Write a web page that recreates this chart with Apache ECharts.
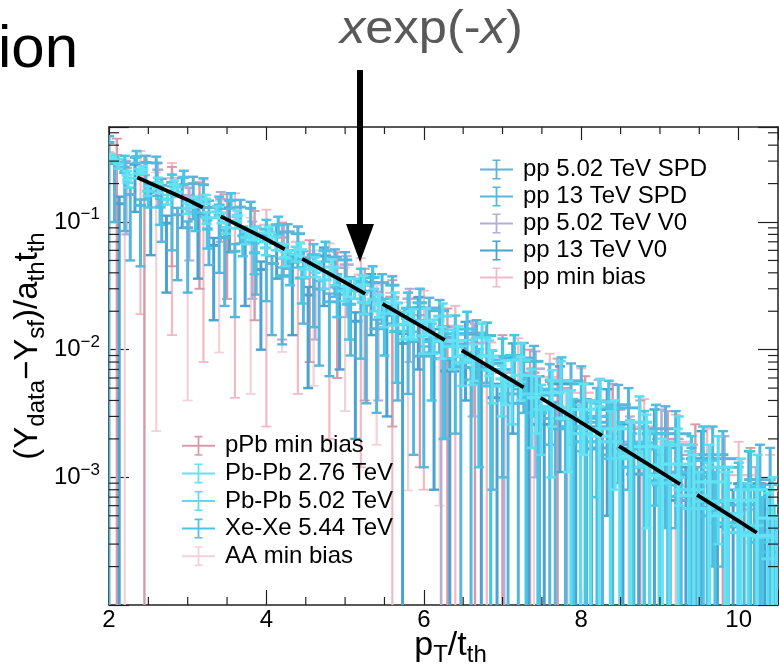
<!DOCTYPE html>
<html>
<head>
<meta charset="utf-8">
<script src="https://cdn.jsdelivr.net/npm/echarts@6/dist/echarts.min.js"></script>
<style>
html, body { margin: 0; padding: 0; background: #fff; }
#chart { width: 779px; height: 671px; }
</style>
</head>
<body>
<div id="chart"></div>
<script>
// points are [x, y, lower end, upper end]; a lower end of 0 means the bar runs off the bottom
const aaMinBias = [
  [2.20, 0.256, 0, 0.31], [2.60, 0.203, 0.0023, 0.245], [3.00, 0.157, 0.004, 0.19],
  [3.40, 0.119, 0.0095, 0.145], [3.80, 0.089, 0.0045, 0.108], [4.20, 0.066, 0.0096, 0.081],
  [4.60, 0.0485, 0.0052, 0.060], [5.00, 0.0354, 0.0033, 0.044], [5.40, 0.0256, 0.0018, 0.032],
  [5.80, 0.0185, 0.00079, 0.0235], [6.20, 0.0133, 0.0006, 0.0172], [6.60, 0.0094, 0, 0.0124],
  [7.00, 0.0067, 0, 0.0090], [7.40, 0.0048, 0, 0.0066], [7.80, 0.0034, 0, 0.0048],
  [8.20, 0.0024, 0, 0.0035], [8.60, 0.0017, 0, 0.0026], [9.00, 0.0012, 0, 0.0019],
  [9.40, 0.00085, 0, 0.0014], [9.80, 0.0006, 0, 0.0011], [10.20, 0.00043, 0, 0.0008]
];
const ppMinBias = [
  [2.00, 0.352, 0, 0.47], [2.40, 0.272, 0.019, 0.36], [2.80, 0.221, 0.013, 0.29],
  [3.20, 0.163, 0.008, 0.215], [3.60, 0.128, 0.0042, 0.168], [4.00, 0.095, 0.0025, 0.125],
  [4.40, 0.070, 0.0045, 0.093], [4.80, 0.0514, 0.0020, 0.068], [5.20, 0.0387, 0.0012, 0.052],
  [5.60, 0.0279, 0, 0.038], [6.00, 0.0209, 0.0008, 0.029], [6.40, 0.0154, 0, 0.022],
  [6.80, 0.0114, 0, 0.0165], [7.20, 0.0083, 0, 0.0123], [7.60, 0.0061, 0, 0.0093],
  [8.00, 0.0046, 0, 0.0071], [8.40, 0.0034, 0, 0.0054], [8.80, 0.0025, 0, 0.0041],
  [9.20, 0.0019, 0, 0.0031], [9.60, 0.0014, 0, 0.0024], [10.00, 0.00104, 0, 0.0019],
  [10.40, 0.00079, 0, 0.0015]
];
const pPbMinBias = [
  [2.10, 0.334, 0, 0.45], [2.45, 0.233, 0, 0.33], [2.80, 0.204, 0.045, 0.27],
  [3.15, 0.149, 0.03, 0.205], [3.50, 0.127, 0.025, 0.165], [3.85, 0.090, 0.017, 0.122],
  [4.20, 0.0757, 0.012, 0.099], [4.55, 0.053, 0.008, 0.072], [4.90, 0.0438, 0.006, 0.058],
  [5.25, 0.0317, 0.004, 0.043], [5.60, 0.0259, 0.0025, 0.035], [5.95, 0.0186, 0.0012, 0.026],
  [6.30, 0.0150, 0, 0.021], [6.65, 0.0112, 0, 0.0160], [7.00, 0.0089, 0, 0.0130],
  [7.35, 0.0066, 0, 0.0100], [7.70, 0.0056, 0, 0.0085], [8.05, 0.0039, 0, 0.0062],
  [8.40, 0.0034, 0, 0.0054], [8.75, 0.0024, 0, 0.0040], [9.10, 0.0020, 0, 0.0033],
  [9.45, 0.0015, 0, 0.0026], [9.80, 0.0012, 0, 0.0021], [10.15, 0.0009, 0, 0.0017]
];
const pp502V0 = [
  [2.22, 0.265, 0.08, 0.30], [2.62, 0.257, 0.13, 0.29], [3.02, 0.162, 0.05, 0.185],
  [3.42, 0.151, 0.07, 0.172], [3.82, 0.088, 0.025, 0.101], [4.22, 0.0837, 0.037, 0.096],
  [4.62, 0.0478, 0.012, 0.055], [5.02, 0.0464, 0.018, 0.054], [5.42, 0.0240, 0.004, 0.0285],
  [5.82, 0.0251, 0.008, 0.030], [6.22, 0.0124, 0, 0.0152], [6.62, 0.0132, 0.003, 0.0168],
  [7.02, 0.0066, 0, 0.0085], [7.42, 0.0071, 0.001, 0.0097], [7.82, 0.0035, 0, 0.0050],
  [8.22, 0.0040, 0, 0.0058], [8.62, 0.0019, 0, 0.0030], [9.02, 0.0022, 0, 0.0034],
  [9.42, 0.0010, 0, 0.0018], [9.82, 0.0012, 0, 0.0021], [10.22, 0.00056, 0, 0.0012]
];
const pp13V0 = [
  [2.13, 0.139, 0, 0.158], [2.33, 0.283, 0.12, 0.32], [2.53, 0.171, 0.055, 0.193],
  [2.73, 0.098, 0.028, 0.112], [2.93, 0.196, 0.09, 0.222], [3.13, 0.116, 0.036, 0.132],
  [3.33, 0.0656, 0.017, 0.075], [3.53, 0.129, 0.058, 0.147], [3.73, 0.0761, 0.022, 0.087],
  [3.93, 0.0425, 0.010, 0.049], [4.13, 0.0831, 0.036, 0.095], [4.33, 0.0485, 0.013, 0.056],
  [4.53, 0.0268, 0.005, 0.031], [4.73, 0.0542, 0.022, 0.063], [4.93, 0.0303, 0.007, 0.035],
  [5.13, 0.0167, 0.002, 0.0196], [5.33, 0.0335, 0.013, 0.039], [5.53, 0.0186, 0.003, 0.022],
  [5.73, 0.0112, 0, 0.0133], [5.93, 0.0213, 0.007, 0.0257], [6.13, 0.0120, 0.0008, 0.0145],
  [6.33, 0.0068, 0, 0.0083], [6.53, 0.0133, 0.004, 0.0165], [6.73, 0.0072, 0, 0.0090],
  [6.93, 0.0042, 0, 0.0054], [7.13, 0.0086, 0.0022, 0.0112], [7.33, 0.0046, 0, 0.0060],
  [7.53, 0.0026, 0, 0.0036], [7.73, 0.0054, 0.0011, 0.0074], [7.93, 0.00285, 0, 0.0040],
  [8.13, 0.00167, 0, 0.0025], [8.33, 0.0034, 0.0005, 0.0049], [8.53, 0.00168, 0, 0.0026],
  [8.73, 0.00106, 0, 0.0017], [8.93, 0.0022, 0, 0.0034], [9.13, 0.00104, 0, 0.0017],
  [9.33, 0.00066, 0, 0.0012], [9.53, 0.0014, 0, 0.0023], [9.73, 0.00064, 0, 0.0012],
  [9.93, 0.00041, 0, 0.0008], [10.13, 0.00089, 0, 0.0016], [10.33, 0.00039, 0, 0.0008]
];
const pp502SPD = [
  [2.07, 0.287, 0.10, 0.32], [2.27, 0.164, 0.05, 0.185], [2.47, 0.293, 0.15, 0.33],
  [2.67, 0.194, 0.07, 0.218], [2.87, 0.114, 0.035, 0.129], [3.07, 0.200, 0.105, 0.226],
  [3.27, 0.130, 0.046, 0.147], [3.47, 0.0756, 0.022, 0.086], [3.67, 0.131, 0.068, 0.149],
  [3.87, 0.081, 0.027, 0.092], [4.07, 0.0473, 0.013, 0.054], [4.27, 0.0837, 0.043, 0.096],
  [4.47, 0.0512, 0.016, 0.059], [4.67, 0.0298, 0.0075, 0.0345], [4.87, 0.0531, 0.026, 0.061],
  [5.07, 0.0319, 0.009, 0.037], [5.27, 0.0190, 0.0038, 0.0222], [5.47, 0.0335, 0.016, 0.039],
  [5.67, 0.0196, 0.004, 0.0232], [5.87, 0.0116, 0.0015, 0.0138], [6.07, 0.0212, 0.0095, 0.0255],
  [6.27, 0.0125, 0.002, 0.0152], [6.47, 0.0073, 0, 0.0090], [6.67, 0.0135, 0.0055, 0.0170],
  [6.87, 0.0078, 0.0008, 0.0098], [7.07, 0.0045, 0, 0.0058], [7.27, 0.0086, 0.0032, 0.0113],
  [7.47, 0.0047, 0, 0.0062], [7.67, 0.0029, 0, 0.0039], [7.87, 0.0057, 0.0018, 0.0078],
  [8.07, 0.0029, 0, 0.0041], [8.27, 0.0017, 0, 0.0025], [8.47, 0.0037, 0.0009, 0.0053],
  [8.67, 0.0018, 0, 0.0027], [8.87, 0.00106, 0, 0.0017], [9.07, 0.0024, 0.0004, 0.0036],
  [9.27, 0.0011, 0, 0.0018], [9.47, 0.00066, 0, 0.0012], [9.67, 0.0015, 0.0002, 0.0025],
  [9.87, 0.00066, 0, 0.0012], [10.07, 0.00041, 0, 0.0009], [10.27, 0.00096, 0, 0.0018]
];
const pp13SPD = [
  [2.00, 0.42, 0, 0.47], [2.20, 0.244, 0.085, 0.27], [2.40, 0.135, 0.045, 0.15],
  [2.60, 0.29, 0.16, 0.325], [2.80, 0.170, 0.06, 0.19], [3.00, 0.090, 0.028, 0.101],
  [3.20, 0.196, 0.11, 0.22], [3.40, 0.113, 0.04, 0.127], [3.60, 0.059, 0.018, 0.067],
  [3.80, 0.128, 0.07, 0.144], [4.00, 0.070, 0.024, 0.079], [4.20, 0.038, 0.011, 0.044],
  [4.40, 0.081, 0.044, 0.092], [4.60, 0.046, 0.015, 0.053], [4.80, 0.0237, 0.0062, 0.0275],
  [5.00, 0.0505, 0.027, 0.058], [5.20, 0.0287, 0.0085, 0.033], [5.40, 0.0146, 0.0032, 0.0172],
  [5.60, 0.032, 0.016, 0.0375], [5.80, 0.0176, 0.0045, 0.0205], [6.00, 0.0089, 0.0012, 0.0106],
  [6.20, 0.0202, 0.0095, 0.0245], [6.40, 0.0111, 0.0022, 0.0134], [6.60, 0.0058, 0, 0.0072],
  [6.80, 0.0129, 0.0055, 0.0162], [7.00, 0.0070, 0.0010, 0.0088], [7.20, 0.0038, 0, 0.0049],
  [7.40, 0.0081, 0.0030, 0.0107], [7.60, 0.0044, 0, 0.0058], [7.80, 0.0024, 0, 0.0033],
  [8.00, 0.0054, 0.0016, 0.0074], [8.20, 0.0027, 0, 0.0038], [8.40, 0.0015, 0, 0.0022],
  [8.60, 0.0035, 0.0008, 0.0050], [8.80, 0.00166, 0, 0.0025], [9.00, 0.00094, 0, 0.0015],
  [9.20, 0.0022, 0.0004, 0.0033], [9.40, 0.00101, 0, 0.0017], [9.60, 0.00058, 0, 0.0011],
  [9.80, 0.0014, 0.0002, 0.0023], [10.00, 0.00061, 0, 0.0012], [10.20, 0.00036, 0, 0.0008],
  [10.40, 0.00088, 0, 0.0017]
];
const xeXe544 = [
  [2.20, 0.293, 0.25, 0.33], [2.50, 0.174, 0.13, 0.20], [2.80, 0.204, 0.17, 0.235],
  [3.10, 0.119, 0.085, 0.138], [3.40, 0.136, 0.112, 0.158], [3.70, 0.078, 0.054, 0.092],
  [4.00, 0.088, 0.071, 0.104], [4.30, 0.0496, 0.032, 0.060], [4.60, 0.0554, 0.043, 0.067],
  [4.90, 0.031, 0.018, 0.039], [5.20, 0.0344, 0.025, 0.043], [5.50, 0.0191, 0.009, 0.025],
  [5.80, 0.0211, 0.014, 0.028], [6.10, 0.0116, 0.004, 0.0160], [6.40, 0.0133, 0.0075, 0.0185],
  [6.70, 0.0070, 0.0012, 0.0101], [7.00, 0.0083, 0.0040, 0.0122], [7.30, 0.0042, 0, 0.0064],
  [7.60, 0.0049, 0.0018, 0.0077], [7.90, 0.0025, 0, 0.0041], [8.20, 0.0030, 0.0007, 0.0050],
  [8.50, 0.00147, 0, 0.0027], [8.80, 0.00186, 0, 0.0033], [9.10, 0.00087, 0, 0.0017],
  [9.40, 0.00109, 0, 0.0021], [9.70, 0.0005, 0, 0.0011], [10.00, 0.00066, 0, 0.0013],
  [10.30, 0.00031, 0, 0.0007],
  [2.35, 0.325, 0.29, 0.36], [2.65, 0.131, 0.095, 0.152], [2.95, 0.224, 0.195, 0.252],
  [3.25, 0.088, 0.062, 0.103], [3.55, 0.148, 0.127, 0.168], [3.85, 0.0574, 0.039, 0.068],
  [4.15, 0.095, 0.080, 0.110], [4.45, 0.0364, 0.023, 0.044], [4.75, 0.0596, 0.049, 0.070],
  [5.05, 0.0227, 0.012, 0.029], [5.35, 0.0368, 0.029, 0.045], [5.65, 0.0139, 0.0055, 0.0185],
  [5.95, 0.0233, 0.017, 0.030], [6.25, 0.0085, 0.002, 0.0118], [6.55, 0.0145, 0.0095, 0.0198],
  [6.85, 0.0052, 0, 0.0077], [7.15, 0.0090, 0.0052, 0.0130], [7.45, 0.0032, 0, 0.0050],
  [7.75, 0.0057, 0.0028, 0.0087], [8.05, 0.0019, 0, 0.0032], [8.35, 0.0035, 0.0014, 0.0057],
  [8.65, 0.0012, 0, 0.0022], [8.95, 0.0022, 0.0006, 0.0037], [9.25, 0.00071, 0, 0.0014],
  [9.55, 0.00136, 0, 0.0025], [9.85, 0.00044, 0, 0.0009], [10.15, 0.00084, 0, 0.0016],
  [10.45, 0.00026, 0, 0.0006]
];
const pbPb502 = [
  [2.12, 0.285, 0.262, 0.31], [2.37, 0.240, 0.22, 0.26], [2.62, 0.204, 0.187, 0.222],
  [2.87, 0.172, 0.157, 0.188], [3.12, 0.144, 0.131, 0.158], [3.37, 0.120, 0.108, 0.133],
  [3.62, 0.099, 0.089, 0.110], [3.87, 0.082, 0.073, 0.092], [4.12, 0.068, 0.060, 0.077],
  [4.37, 0.056, 0.049, 0.064], [4.62, 0.046, 0.040, 0.053], [4.87, 0.0375, 0.032, 0.044],
  [5.12, 0.0305, 0.025, 0.036], [5.37, 0.0248, 0.020, 0.030], [5.62, 0.0200, 0.0155, 0.0248],
  [5.87, 0.0163, 0.012, 0.0208], [6.12, 0.0131, 0.0093, 0.0172], [6.37, 0.0106, 0.0070, 0.0143],
  [6.62, 0.0086, 0.0053, 0.0119], [6.87, 0.0069, 0.0038, 0.0099], [7.12, 0.0056, 0.0026, 0.0083],
  [7.37, 0.0045, 0.0017, 0.0070], [7.62, 0.0036, 0.0010, 0.0058], [7.87, 0.0029, 0, 0.0048],
  [8.12, 0.0024, 0, 0.0040], [8.37, 0.0019, 0, 0.0033], [8.62, 0.00155, 0, 0.0028],
  [8.87, 0.00125, 0, 0.0023], [9.12, 0.0010, 0, 0.0019], [9.37, 0.0008, 0, 0.0016],
  [9.62, 0.00065, 0, 0.0013], [9.87, 0.00052, 0, 0.0011], [10.12, 0.00042, 0, 0.0009],
  [10.37, 0.00034, 0, 0.00075],
  [2.24, 0.203, 0.186, 0.22], [2.49, 0.175, 0.160, 0.190], [2.74, 0.150, 0.137, 0.163],
  [2.99, 0.128, 0.116, 0.140], [3.24, 0.108, 0.097, 0.119], [3.49, 0.0905, 0.081, 0.100],
  [3.74, 0.0756, 0.067, 0.084], [3.99, 0.0627, 0.055, 0.070], [4.24, 0.0519, 0.045, 0.058],
  [4.49, 0.0428, 0.037, 0.049], [4.74, 0.0352, 0.030, 0.041], [4.99, 0.0288, 0.024, 0.034],
  [5.24, 0.0235, 0.019, 0.028], [5.49, 0.0193, 0.015, 0.0235], [5.74, 0.0157, 0.012, 0.0195],
  [5.99, 0.0128, 0.0093, 0.0163], [6.24, 0.0183, 0.014, 0.023], [6.49, 0.0079, 0.0052, 0.0107],
  [6.74, 0.0124, 0.0090, 0.0160], [6.99, 0.0052, 0.0030, 0.0075], [7.24, 0.0083, 0.0056, 0.0112],
  [7.49, 0.0034, 0.0015, 0.0053], [7.74, 0.0057, 0.0035, 0.0081], [7.99, 0.0022, 0, 0.0037],
  [8.24, 0.0039, 0.0021, 0.0059], [8.49, 0.0014, 0, 0.0025], [8.74, 0.0027, 0.0012, 0.0043],
  [8.99, 0.0009, 0, 0.0017], [9.24, 0.0018, 0.0006, 0.0030], [9.49, 0.00057, 0, 0.0011],
  [9.74, 0.0012, 0.0003, 0.0021], [9.99, 0.00037, 0, 0.0008], [10.24, 0.0008, 0, 0.0015],
  [10.49, 0.00023, 0, 0.0005]
];
const pbPb276 = [
  [2.03, 0.320, 0.30, 0.34], [2.23, 0.233, 0.215, 0.25], [2.43, 0.257, 0.24, 0.275],
  [2.63, 0.184, 0.169, 0.199], [2.83, 0.197, 0.183, 0.212], [3.03, 0.142, 0.130, 0.154],
  [3.23, 0.151, 0.139, 0.163], [3.43, 0.108, 0.098, 0.118], [3.63, 0.113, 0.103, 0.123],
  [3.83, 0.0807, 0.072, 0.089], [4.03, 0.0823, 0.074, 0.091], [4.23, 0.0598, 0.053, 0.067],
  [4.43, 0.0607, 0.054, 0.068], [4.63, 0.0428, 0.037, 0.049], [4.83, 0.0444, 0.038, 0.051],
  [5.03, 0.0313, 0.026, 0.036], [5.23, 0.0322, 0.027, 0.038], [5.43, 0.0226, 0.018, 0.027],
  [5.63, 0.0232, 0.019, 0.028], [5.83, 0.0163, 0.0125, 0.020], [6.03, 0.0167, 0.013, 0.021],
  [6.23, 0.0117, 0.0085, 0.0150], [6.43, 0.0118, 0.0088, 0.0152], [6.63, 0.0083, 0.0057, 0.0110],
  [6.83, 0.0089, 0.0062, 0.0118], [7.03, 0.0059, 0.0037, 0.0082], [7.23, 0.0063, 0.0040, 0.0088],
  [7.43, 0.0042, 0.0022, 0.0062], [7.63, 0.0046, 0.0025, 0.0069], [7.83, 0.0029, 0.0011, 0.0048],
  [8.03, 0.0034, 0.0015, 0.0054], [8.23, 0.0021, 0, 0.0036], [8.43, 0.0024, 0.0008, 0.0040],
  [8.63, 0.00146, 0, 0.0027], [8.83, 0.00174, 0.0004, 0.0031], [9.03, 0.00103, 0, 0.0020],
  [9.23, 0.00127, 0, 0.0024], [9.43, 0.00072, 0, 0.0015], [9.63, 0.00092, 0, 0.0018],
  [9.83, 0.0005, 0, 0.0011], [10.03, 0.00066, 0, 0.0014], [10.23, 0.00035, 0, 0.0008],
  [10.43, 0.00048, 0, 0.0010]
];

// drawing order (back to front)
const seriesNames = ['AA min bias', 'pp min bias', 'pPb min bias', 'pp 5.02 TeV V0', 'pp 13 TeV V0',
  'pp 5.02 TeV SPD', 'pp 13 TeV SPD', 'Xe-Xe 5.44 TeV', 'Pb-Pb 5.02 TeV', 'Pb-Pb 2.76 TeV'];
const seriesPoints = [aaMinBias, ppMinBias, pPbMinBias, pp502V0, pp13V0, pp502SPD, pp13SPD, xeXe544, pbPb502, pbPb276];
const seriesColors = ['#f1d2d9', '#f3b9c5', '#d59bab', '#b6acd4', '#4aa2d0', '#5cb4da', '#54b8dc', '#49c6e6', '#5cdcf0', '#63e3f3'];
const seriesLineWidths = [2.2, 2.2, 2.4, 2.6, 3, 3, 3, 3.2, 3.2, 3.2];

// p_T bins get wider towards high p_T: [from x, half width of bin]
const binHalfWidths = [[2, 0.07], [4, 0.09], [6, 0.12], [7.5, 0.16], [9, 0.2]];

const legendUpper = ['pp 5.02 TeV SPD', 'pp 13 TeV SPD', 'pp 5.02 TeV V0', 'pp 13 TeV V0', 'pp min bias'];
const legendLower = ['pPb min bias', 'Pb-Pb 2.76 TeV', 'Pb-Pb 5.02 TeV', 'Xe-Xe 5.44 TeV', 'AA min bias'];

// the dashed x exp(-x) curve
const curvePoints = [[2.36, 0.223], [3, 0.149], [4, 0.0733], [5, 0.0337], [6, 0.0149], [7, 0.00638],
  [8, 0.00268], [9, 0.00111], [10, 0.000454], [10.23, 0.000368]];

const xLabelValues = [2, 4, 6, 8, 10];
const xMinorTicks = [2.5, 3, 3.5, 4.5, 5, 5.5, 6.5, 7, 7.5, 8.5, 9, 9.5];
const yLabelValues = [0.001, 0.01, 0.1];
const yLabelExponents = ['−3', '−2', '−1'];

const X_MIN = 2, X_MAX = 10.5, Y_MIN = 1e-4, Y_MAX = 0.555;
const FONT = "'Liberation Sans', Arial, Helvetica, sans-serif";

const yMinorTicks = [];
[1e-4, 1e-3, 1e-2, 1e-1].forEach(d => {
  [2, 3, 4, 5, 6, 7, 8, 9].forEach(m => { if (d * m < Y_MAX) yMinorTicks.push(d * m); });
});

function halfWidthAt(x) {
  let w = binHalfWidths[0][1];
  binHalfWidths.forEach(b => { if (x >= b[0]) w = b[1]; });
  return w;
}

const legendIcon = 'path://M0,9L33,9L33,11L0,11Z M15.6,0L17.4,0L17.4,20L15.6,20Z ' +
  'M12.5,0L20.5,0L20.5,1.6L12.5,1.6Z M12.5,18.4L20.5,18.4L20.5,20L12.5,20Z';

function seg(x1, y1, x2, y2, color, w) {
  return { type: 'line', shape: { x1, y1, x2, y2 }, style: { stroke: color, lineWidth: w } };
}

function makeErrorBarRenderer(lineWidth) {
  return function (params, api) {
    const x = api.value(0), y = api.value(1), lo = api.value(2), hi = api.value(3), dx = api.value(4);
    const color = api.visual('color');
    const c = api.coord([x, y]);
    const l = api.coord([x - dx, y]);
    const r = api.coord([x + dx, y]);
    const top = api.coord([x, Math.min(hi, Y_MAX)]);
    const bottomY = lo > 0 ? api.coord([x, lo])[1] : params.coordSys.y + params.coordSys.height;
    const kids = [
      seg(l[0], c[1], r[0], c[1], color, lineWidth),
      seg(c[0], top[1], c[0], bottomY, color, lineWidth)
    ];
    if (hi < Y_MAX) kids.push(seg(c[0] - 5, top[1], c[0] + 5, top[1], color, lineWidth * 0.8));
    if (lo > 0) kids.push(seg(c[0] - 5, bottomY, c[0] + 5, bottomY, color, lineWidth * 0.8));
    return { type: 'group', children: kids };
  };
}

function renderMinorY(params, api) {
  const v = api.value(1);
  const p = api.coord([X_MIN, v]);
  const q = api.coord([X_MAX, v]);
  return { type: 'group', children: [
    seg(p[0], p[1], p[0] + 10, p[1], '#222', 1.2),
    seg(q[0] - 10, q[1], q[0], q[1], '#222', 1.2)
  ] };
}

function renderMinorX(params, api) {
  const v = api.value(0);
  const p = api.coord([v, Y_MIN]);
  const q = api.coord([v, Y_MAX]);
  return { type: 'group', children: [
    seg(p[0], p[1], p[0], p[1] - 8, '#222', 1.2),
    seg(q[0], q[1], q[0], q[1] + 7, '#222', 1.2)
  ] };
}

const errorSeries = seriesNames.map((name, i) => ({
  name: name,
  type: 'custom',
  coordinateSystem: 'cartesian2d',
  renderItem: makeErrorBarRenderer(seriesLineWidths[i]),
  clip: true,
  silent: true,
  itemStyle: { color: seriesColors[i], borderWidth: 0 },
  encode: { x: 0, y: 1 },
  data: seriesPoints[i].map(p => [p[0], p[1], p[2], p[3], halfWidthAt(p[0])])
}));

const legendText = {
  fontFamily: FONT, fontSize: 24, color: '#000', lineHeight: 27,
  rich: { gap: { width: 5 } }
};
const legendBase = {
  orient: 'vertical',
  itemWidth: 33,
  itemHeight: 20,
  itemGap: 0,
  icon: legendIcon,
  selectedMode: false,
  itemStyle: { borderWidth: 0 },
  formatter: name => '{gap|}' + name
};

const axisLineStyle = { lineStyle: { color: '#222', width: 1.5 } };
const subStyle = { fontFamily: FONT, fontSize: 24, lineHeight: 24, verticalAlign: 'bottom', color: '#000' };

const chart = echarts.init(document.getElementById('chart'), null, { renderer: 'canvas' });
chart.setOption({
  animation: false,
  backgroundColor: '#fff',
  grid: { left: 109, right: 1, top: 127, bottom: 66, containLabel: false, outerBoundsMode: 'none' },
  legend: [
    Object.assign({}, legendBase, { data: legendUpper, left: 475, top: 151, textStyle: legendText }),
    Object.assign({}, legendBase, { data: legendLower, left: 177, top: 427, textStyle: Object.assign({}, legendText, { lineHeight: 27.6 }) })
  ],
  xAxis: [{
    type: 'value', min: X_MIN, max: X_MAX, interval: 2, position: 'bottom',
    axisLine: axisLineStyle,
    axisTick: { inside: true, length: 15, lineStyle: { color: '#222', width: 1.2 } },
    splitLine: { show: false },
    axisLabel: {
      margin: 3, fontFamily: FONT, fontSize: 24, lineHeight: 24, color: '#000',
      formatter: v => xLabelValues.indexOf(v) >= 0 ? String(v) : ''
    },
    name: 'p{s|T}/t{s|th}',
    nameLocation: 'middle',
    nameGap: 20,
    nameMoveOverlap: false,
    nameTextStyle: {
      fontFamily: FONT, fontSize: 34, color: '#000', lineHeight: 42, padding: [0, 0, 0, 14],
      rich: { s: subStyle }
    }
  }, {
    type: 'value', min: X_MIN, max: X_MAX, interval: 2, position: 'top',
    axisLine: axisLineStyle,
    axisTick: { inside: true, length: 13, lineStyle: { color: '#222', width: 1.2 } },
    axisLabel: { show: false },
    splitLine: { show: false }
  }],
  yAxis: [{
    type: 'log', logBase: 10, min: Y_MIN, max: Y_MAX, interval: 1, position: 'left',
    axisLine: axisLineStyle,
    axisTick: { inside: true, length: 20, lineStyle: { color: '#222', width: 1.2 } },
    splitLine: { show: false },
    axisLabel: {
      margin: 9, fontFamily: FONT, fontSize: 24, color: '#000', lineHeight: 32,
      formatter: v => {
        const k = yLabelValues.findIndex(t => Math.abs(v - t) / t < 1e-6);
        return k < 0 ? '' : '10{e|' + yLabelExponents[k] + '}';
      },
      rich: { e: { fontFamily: FONT, fontSize: 17, lineHeight: 17, verticalAlign: 'top', color: '#000' } }
    },
    name: '(Y{s|data}−Y{s|sf})/a{s|th}t{s|th}',
    nameLocation: 'middle',
    nameRotate: 90,
    nameGap: 60,
    nameMoveOverlap: false,
    nameTextStyle: {
      fontFamily: FONT, fontSize: 33, color: '#000', lineHeight: 42, padding: [0, 0, 0, 40],
      rich: { s: subStyle }
    }
  }, {
    type: 'log', logBase: 10, min: Y_MIN, max: Y_MAX, interval: 1, position: 'right',
    axisLine: axisLineStyle,
    axisTick: { inside: true, length: 20, lineStyle: { color: '#222', width: 1.2 } },
    axisLabel: { show: false },
    splitLine: { show: false }
  }],
  series: errorSeries.concat([{
    name: 'xexp(-x)',
    type: 'line',
    data: curvePoints,
    showSymbol: false,
    silent: true,
    z: 5,
    lineStyle: { color: '#000', width: 3.8, type: [72, 20] }
  }, {
    type: 'custom', renderItem: renderMinorY, silent: true, clip: false, z: 6,
    encode: { x: 0, y: 1 },
    data: yMinorTicks.map(v => [X_MIN, v])
  }, {
    type: 'custom', renderItem: renderMinorX, silent: true, clip: false, z: 6,
    encode: { x: 0, y: 1 },
    data: xMinorTicks.map(v => [v, Y_MIN])
  }]),
  graphic: [
    { type: 'text', left: -2, top: 20, style: { text: 'ion', font: '60px ' + FONT, fill: '#000' } },
    {
      type: 'text', left: 340, top: 7, scaleX: 1.1,
      style: {
        text: '{i|x}exp(-{i|x})', fill: '#595959', font: '46px ' + FONT,
        rich: { i: { fontStyle: 'italic', fontFamily: FONT, fontSize: 46, fill: '#595959' } }
      }
    },
    { type: 'rect', shape: { x: 357, y: 70, width: 6, height: 156 }, style: { fill: '#000' }, z: 10 },
    { type: 'polygon', shape: { points: [[346, 224], [374, 224], [360, 262]] }, style: { fill: '#000' }, z: 10 }
  ]
});
</script>
</body>
</html>
